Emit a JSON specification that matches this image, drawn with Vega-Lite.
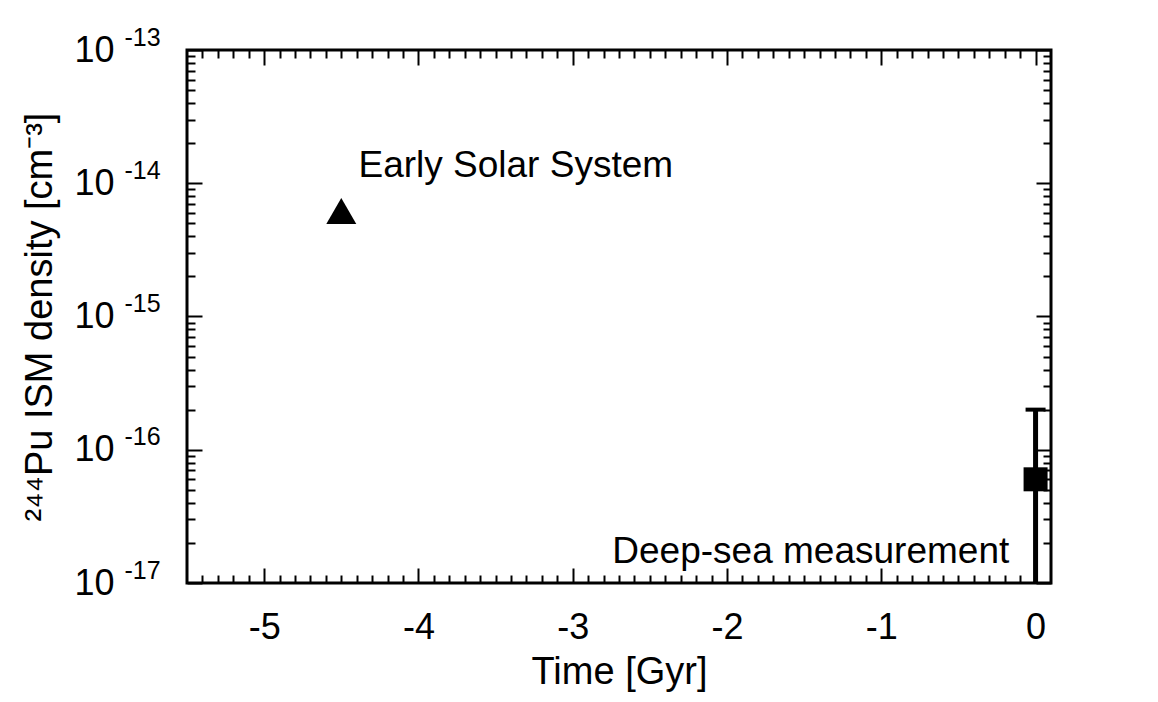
{
  "$schema": "https://vega.github.io/schema/vega-lite/v6.json",
  "width": 864,
  "height": 533,
  "autosize": {"type": "none"},
  "padding": {"left": 187, "top": 50, "right": 107, "bottom": 119},
  "background": "white",
  "config": {
    "view": {"stroke": "black", "strokeWidth": 3},
    "axis": {
      "domain": false,
      "grid": false,
      "tickColor": "black",
      "tickWidth": 2,
      "labelColor": "black",
      "labelFont": "Liberation Sans",
      "labelFontSize": 36,
      "titleFont": "Liberation Sans",
      "titleFontSize": 38,
      "titleFontWeight": "normal",
      "titleColor": "black",
      "labelOverlap": false,
      "labelFlush": false
    },
    "text": {"font": "Liberation Sans"}
  },
  "datasets": {
    "err": [{"t": 0, "lo": 1e-18, "hi": 2e-16}],
    "deep": [{"t": 0, "v": 6e-17}],
    "ess": [{"t": -4.5, "v": 6.2e-15}],
    "notes": [
      {"t": -3.369, "v": 1.11e-14, "label": "Early Solar System"},
      {"t": -1.457, "v": 1.406e-17, "label": "Deep-sea measurement"}
    ]
  },
  "resolve": {"axis": {"x": "independent", "y": "independent"}},
  "layer": [
    {
      "data": {"name": "err"},
      "mark": {"type": "rule", "strokeWidth": 5, "color": "black", "opacity": 1, "clip": true},
      "encoding": {
        "x": {
          "field": "t", "type": "quantitative",
          "scale": {"domain": [-5.5, 0.1], "nice": false, "zero": false},
          "axis": {
            "orient": "bottom",
            "values": [-5.4,-5.3,-5.2,-5.1,-5,-4.9,-4.8,-4.7,-4.6,-4.5,-4.4,-4.3,-4.2,-4.1,-4,-3.9,-3.8,-3.7,-3.6,-3.5,-3.4,-3.3,-3.2,-3.1,-3,-2.9,-2.8,-2.7,-2.6,-2.5,-2.4,-2.3,-2.2,-2.1,-2,-1.9,-1.8,-1.7,-1.6,-1.5,-1.4,-1.3,-1.2,-1.1,-1,-0.9,-0.8,-0.7,-0.6,-0.5,-0.4,-0.3,-0.2,-0.1,0],
            "tickSize": {"condition": {"test": "abs(datum.value - round(datum.value)) < 0.01", "value": -15}, "value": -8},
            "labelExpr": "abs(datum.value - round(datum.value)) < 0.01 ? '' + round(datum.value) : ''",
            "labelBaseline": "alphabetic",
            "labelPadding": 70,
            "title": "Time [Gyr]",
            "titleBaseline": "alphabetic",
            "titleY": 100
          }
        },
        "y": {
          "field": "hi", "type": "quantitative",
          "scale": {"type": "log", "domain": [1e-17, 1e-13], "nice": false},
          "axis": {
            "orient": "left",
            "values": [1e-17,2e-17,3e-17,4e-17,5e-17,6e-17,7e-17,8e-17,9e-17,1e-16,2e-16,3e-16,4e-16,5e-16,6e-16,7e-16,8e-16,9e-16,1e-15,2e-15,3e-15,4e-15,5e-15,6e-15,7e-15,8e-15,9e-15,1e-14,2e-14,3e-14,4e-14,5e-14,6e-14,7e-14,8e-14,9e-14,1e-13],
            "tickSize": {"condition": {"test": "abs(log(datum.value)/LN10 - round(log(datum.value)/LN10)) < 0.001", "value": -15}, "value": -8},
            "labelExpr": "abs(log(datum.value)/LN10 - round(log(datum.value)/LN10)) < 0.001 ? '10' : ''",
            "labelAlign": "right",
            "labelBaseline": "middle",
            "labelPadding": 88,
            "title": "²⁴⁴Pu ISM density [cm⁻³]",
            "titleBaseline": "alphabetic",
            "titleX": -136,
            "titleAlign": "center"
          }
        },
        "y2": {"field": "lo"}
      }
    },
    {
      "data": {"name": "err"},
      "mark": {"type": "tick", "orient": "horizontal", "size": 20, "thickness": 4, "color": "black", "opacity": 1},
      "encoding": {
        "x": {
          "field": "t", "type": "quantitative",
          "scale": {"domain": [-5.5, 0.1], "nice": false, "zero": false},
          "axis": {
            "orient": "top",
            "values": [-5.4,-5.3,-5.2,-5.1,-5,-4.9,-4.8,-4.7,-4.6,-4.5,-4.4,-4.3,-4.2,-4.1,-4,-3.9,-3.8,-3.7,-3.6,-3.5,-3.4,-3.3,-3.2,-3.1,-3,-2.9,-2.8,-2.7,-2.6,-2.5,-2.4,-2.3,-2.2,-2.1,-2,-1.9,-1.8,-1.7,-1.6,-1.5,-1.4,-1.3,-1.2,-1.1,-1,-0.9,-0.8,-0.7,-0.6,-0.5,-0.4,-0.3,-0.2,-0.1,0],
            "tickSize": {"condition": {"test": "abs(datum.value - round(datum.value)) < 0.01", "value": -15}, "value": -8},
            "labels": false,
            "title": null
          }
        },
        "y": {
          "field": "hi", "type": "quantitative",
          "scale": {"type": "log", "domain": [1e-17, 1e-13], "nice": false},
          "axis": {
            "orient": "right",
            "values": [1e-17,2e-17,3e-17,4e-17,5e-17,6e-17,7e-17,8e-17,9e-17,1e-16,2e-16,3e-16,4e-16,5e-16,6e-16,7e-16,8e-16,9e-16,1e-15,2e-15,3e-15,4e-15,5e-15,6e-15,7e-15,8e-15,9e-15,1e-14,2e-14,3e-14,4e-14,5e-14,6e-14,7e-14,8e-14,9e-14,1e-13],
            "tickSize": {"condition": {"test": "abs(log(datum.value)/LN10 - round(log(datum.value)/LN10)) < 0.001", "value": -15}, "value": -8},
            "labels": false,
            "title": null
          }
        }
      }
    },
    {
      "data": {"name": "deep"},
      "mark": {"type": "point", "shape": "square", "filled": true, "size": 576, "color": "black", "opacity": 1},
      "encoding": {
        "x": {
          "field": "t", "type": "quantitative",
          "scale": {"domain": [-5.5, 0.1], "nice": false, "zero": false},
          "axis": null
        },
        "y": {
          "field": "v", "type": "quantitative",
          "scale": {"type": "log", "domain": [1e-17, 1e-13], "nice": false},
          "axis": {
            "orient": "left",
            "values": [1e-17, 1e-16, 1e-15, 1e-14, 1e-13],
            "ticks": false,
            "labelExpr": "'-' + round(-log(datum.value)/LN10)",
            "labelFontSize": 25,
            "labelAlign": "left",
            "labelBaseline": "middle",
            "labelPadding": 63,
            "labelOffset": -13,
            "title": null
          }
        }
      }
    },
    {
      "data": {"name": "ess"},
      "mark": {"type": "point", "shape": "triangle-up", "filled": true, "size": 900, "color": "black", "opacity": 1},
      "encoding": {
        "x": {"field": "t", "type": "quantitative", "scale": {"domain": [-5.5, 0.1], "nice": false, "zero": false}, "axis": null},
        "y": {"field": "v", "type": "quantitative", "scale": {"type": "log", "domain": [1e-17, 1e-13], "nice": false}, "axis": null}
      }
    },
    {
      "data": {"name": "notes"},
      "mark": {"type": "text", "fontSize": 37, "font": "Liberation Sans", "color": "black", "align": "center", "baseline": "alphabetic"},
      "encoding": {
        "x": {"field": "t", "type": "quantitative", "scale": {"domain": [-5.5, 0.1], "nice": false, "zero": false}, "axis": null},
        "y": {"field": "v", "type": "quantitative", "scale": {"type": "log", "domain": [1e-17, 1e-13], "nice": false}, "axis": null},
        "text": {"field": "label"}
      }
    }
  ]
}
